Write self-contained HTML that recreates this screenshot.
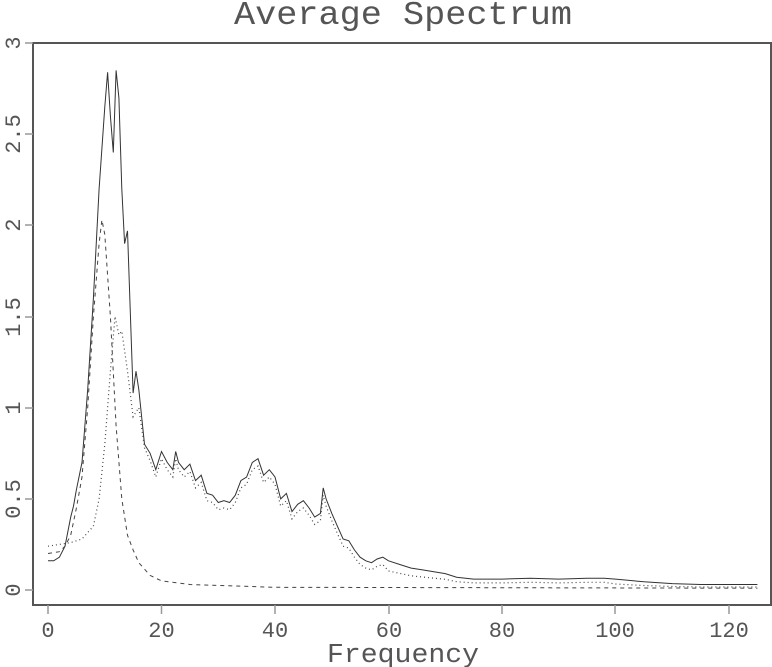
<!DOCTYPE html>
<html><head><style>
html,body{margin:0;padding:0;background:#fff;}
svg{display:block;}
text{font-family:"Liberation Mono","DejaVu Sans Mono",monospace;fill:#555;}
</style></head><body>
<svg id="s" width="772" height="667" viewBox="0 0 772 667" xmlns="http://www.w3.org/2000/svg">
<text x="403" y="24" font-size="33" text-anchor="middle" textLength="338" lengthAdjust="spacingAndGlyphs">Average Spectrum</text>
<rect x="33" y="43" width="738" height="562" fill="none" stroke="#555" stroke-width="2"/>
<g stroke="#999" stroke-width="1.5">
<line x1="25" y1="590" x2="33" y2="590"/><line x1="25" y1="499" x2="33" y2="499"/>
<line x1="25" y1="408" x2="33" y2="408"/><line x1="25" y1="317" x2="33" y2="317"/>
<line x1="25" y1="225" x2="33" y2="225"/><line x1="25" y1="134" x2="33" y2="134"/>
<line x1="25" y1="43" x2="33" y2="43"/>
<line x1="48" y1="605" x2="48" y2="614"/><line x1="161.5" y1="605" x2="161.5" y2="614"/>
<line x1="275" y1="605" x2="275" y2="614"/><line x1="389" y1="605" x2="389" y2="614"/>
<line x1="502" y1="605" x2="502" y2="614"/><line x1="615" y1="605" x2="615" y2="614"/>
<line x1="729" y1="605" x2="729" y2="614"/>
</g>
<g font-size="22" text-anchor="middle">
<text transform="translate(20,590) rotate(-90)">0</text>
<text transform="translate(20,499) rotate(-90)">0.5</text>
<text transform="translate(20,408) rotate(-90)">1</text>
<text transform="translate(20,317) rotate(-90)">1.5</text>
<text transform="translate(20,225) rotate(-90)">2</text>
<text transform="translate(20,134) rotate(-90)">2.5</text>
<text transform="translate(20,43) rotate(-90)">3</text>
<text x="48" y="637">0</text><text x="161.5" y="637">20</text><text x="275" y="637">40</text>
<text x="389" y="637">60</text><text x="502" y="637">80</text><text x="615" y="637">100</text>
<text x="729" y="637">120</text>
</g>
<text x="403" y="662" font-size="27" text-anchor="middle" textLength="152" lengthAdjust="spacingAndGlyphs">Frequency</text>
<path id="p1" fill="none" stroke="#333" stroke-width="1"/>
<path id="p2" fill="none" stroke="#444" stroke-width="1" stroke-dasharray="4,4"/>
<path id="p3" fill="none" stroke="#444" stroke-width="1.2" stroke-dasharray="1,3"/>
</svg>
<script>
function X(f){return 48+f*5.675}function Y(v){return 590-v*182.3}
function P(a){return a.map((p,i)=>(i?'L':'M')+X(p[0]).toFixed(1)+','+Y(p[1]).toFixed(1)).join('')}
var s=[[0,.16],[1,.16],[2,.18],[3,.24],[4,.4],[4.5,.46],[5,.55],[6,.7],[7,1.1],[8,1.6],[9,2.2],[10,2.65],[10.5,2.84],[11,2.6],[11.5,2.4],[12,2.85],[12.5,2.7],[13,2.2],[13.5,1.9],[14,1.97],[15,1.08],[15.5,1.2],[16,1.1],[17,.8],[18,.75],[19,.66],[20,.76],[21,.7],[22,.66],[22.5,.76],[23,.7],[24,.66],[25,.69],[26,.6],[27,.63],[28,.53],[29,.52],[30,.48],[31,.49],[32,.48],[33,.52],[34,.6],[35,.62],[36,.7],[37,.72],[38,.63],[39,.66],[40,.62],[41,.5],[42,.53],[43,.43],[44,.47],[45,.49],[46,.45],[47,.4],[48,.42],[48.5,.56],[49,.5],[50,.42],[51,.35],[52,.28],[53,.27],[54,.22],[55,.18],[56,.16],[57,.15],[58,.17],[59,.18],[60,.16],[62,.14],[64,.12],[66,.11],[68,.1],[70,.09],[72,.07],[75,.06],[80,.06],[85,.065],[90,.06],[95,.065],[98,.065],[100,.06],[105,.045],[110,.035],[115,.03],[125,.03]];
var d=[[0,.2],[2,.21],[3,.24],[4,.3],[5,.45],[6,.62],[7,1.0],[8,1.5],[9,1.9],[9.5,2.03],[10,1.95],[11,1.5],[12,.9],[13,.5],[14,.3],[15,.22],[16,.15],[18,.08],[20,.05],[25,.03],[40,.015],[125,.01]];
var t=[[0,.24],[4,.26],[6,.28],[8,.35],[9,.5],[10,.8],[11,1.2],[11.8,1.5],[12.5,1.4],[13,1.42],[14,1.2],[15,.95],[16,1.0],[17,.78]];
s.forEach(p=>{if(p[0]>=18){var r=p[0]<60?p[1]-.04:p[1]*(p[0]<100?0.65:0.55);t.push([p[0],r])}});
document.getElementById('p1').setAttribute('d',P(s));
document.getElementById('p2').setAttribute('d',P(d));
document.getElementById('p3').setAttribute('d',P(t));
</script>
</body></html>
